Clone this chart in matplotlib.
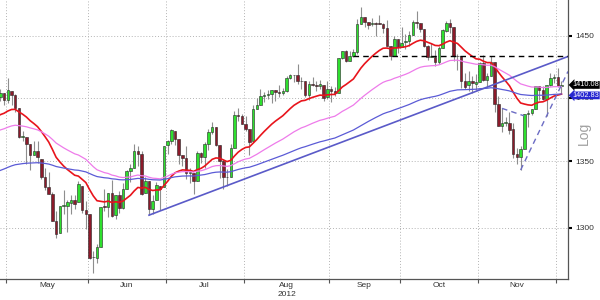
import matplotlib
matplotlib.use('Agg')
import matplotlib.pyplot as plt
from matplotlib.ticker import FixedLocator, FixedFormatter, NullLocator, NullFormatter
import numpy as np
import pandas as pd

plt.rcParams['font.family'] = ['Liberation Sans', 'DejaVu Sans']

# S&P 500, daily candles 26 Apr - 4 Dec 2012
months = ['2012-04', '2012-05', '2012-06', '2012-07', '2012-08',
          '2012-09', '2012-10', '2012-11', '2012-12']
trading_days = [
    [26, 27, 30],
    [1, 2, 3, 4, 7, 8, 9, 10, 11, 14, 15, 16, 17, 18, 21, 22, 23, 24, 25, 29, 30, 31],
    [1, 4, 5, 6, 7, 8, 11, 12, 13, 14, 15, 18, 19, 20, 21, 22, 25, 26, 27, 28, 29],
    [2, 3, 5, 6, 9, 10, 11, 12, 13, 16, 17, 18, 19, 20, 23, 24, 25, 26, 27, 30, 31],
    [1, 2, 3, 6, 7, 8, 9, 10, 13, 14, 15, 16, 17, 20, 21, 22, 23, 24, 27, 28, 29, 30, 31],
    [4, 5, 6, 7, 10, 11, 12, 13, 14, 17, 18, 19, 20, 21, 24, 25, 26, 27, 28],
    [1, 2, 3, 4, 5, 8, 9, 10, 11, 12, 15, 16, 17, 18, 19, 22, 23, 24, 25, 26, 31],
    [1, 2, 5, 6, 7, 8, 9, 12, 13, 14, 15, 16, 19, 20, 21, 23, 26, 27, 28, 29, 30],
    [3, 4],
]

# closes before the window (Nov 2011 - 25 Apr 2012), only feed the averages
hist_close = [
    1218.28, 1237.90, 1261.15, 1253.23, 1261.12, 1275.92, 1229.10, 1239.70, 1263.85, 1251.78,
    1257.81, 1236.91, 1216.13, 1215.65, 1192.98, 1188.04, 1161.79, 1158.67, 1192.55, 1195.19, 1246.96,
    1244.58, 1244.28, 1257.08, 1258.47, 1261.01, 1234.35, 1255.19, 1236.47, 1225.73, 1211.82,
    1215.75, 1219.66, 1205.35, 1241.30, 1243.72, 1254.00, 1265.33, 1265.43, 1249.64, 1263.02, 1257.60,
    1277.06, 1277.30, 1281.06, 1277.81, 1280.70, 1292.08, 1292.48, 1295.50, 1289.09, 1293.67,
    1308.04, 1314.50, 1315.38, 1316.00, 1314.65, 1326.06, 1318.43, 1316.33, 1313.01, 1312.41,
    1324.09, 1325.54, 1344.90, 1344.33, 1347.05, 1349.96, 1351.95, 1342.64, 1351.77, 1350.50,
    1343.23, 1358.04, 1361.23, 1362.21, 1357.66, 1363.46, 1365.74, 1367.59, 1372.18, 1365.68,
    1374.09, 1369.63, 1364.33, 1343.36, 1352.63, 1365.91, 1370.87, 1371.09, 1395.95, 1394.28, 1402.60,
    1404.17, 1409.75, 1405.52, 1402.89, 1392.78, 1397.11, 1416.51, 1412.52, 1405.54, 1403.28, 1408.47,
    1419.04, 1413.38, 1398.96, 1398.08, 1382.20, 1358.59, 1368.71, 1387.57, 1370.26,
    1369.57, 1390.78, 1385.14, 1376.92, 1378.53, 1366.94, 1371.97, 1390.69,
]

opens = [
    1390.64, 1400.19, 1403.26,
    1397.86, 1405.50, 1402.32, 1391.51, 1368.79, 1369.16, 1363.20, 1354.58, 1358.11, 1351.93, 1338.36,
    1330.78, 1324.82, 1305.05, 1295.73, 1316.09, 1316.02, 1318.72, 1320.64, 1318.90, 1331.25, 1313.09,
    1309.87, 1278.29, 1277.82, 1285.61, 1316.15, 1314.99, 1325.72, 1309.40, 1324.02, 1314.88, 1329.19,
    1342.42, 1344.83, 1358.04, 1355.43, 1325.92, 1334.90, 1314.09, 1320.71, 1331.52, 1330.12,
    1362.33, 1365.75, 1373.72, 1367.09, 1354.66, 1352.96, 1341.40, 1341.29, 1334.81, 1356.50, 1353.68,
    1363.58, 1373.01, 1376.51, 1362.34, 1350.52, 1338.35, 1338.17, 1360.05, 1385.94, 1385.27,
    1379.32, 1375.13, 1365.45, 1391.04, 1394.46, 1401.23, 1402.26, 1402.58, 1405.87, 1404.36, 1403.89,
    1405.57, 1415.84, 1417.85, 1418.13, 1413.09, 1413.49, 1401.99, 1411.13, 1410.44, 1409.32, 1410.08, 1400.07,
    1406.54, 1404.94, 1403.74, 1432.12, 1437.92, 1429.13, 1433.56, 1436.56, 1460.07, 1465.42,
    1461.19, 1459.50, 1461.05, 1460.34, 1459.76, 1456.94, 1441.60, 1433.36, 1447.13,
    1440.90, 1444.99, 1446.05, 1451.08, 1461.40, 1460.93, 1455.90, 1441.48, 1432.82, 1432.84, 1428.75,
    1440.31, 1454.22, 1460.94, 1457.15, 1433.21, 1433.74, 1413.20, 1409.74, 1412.97, 1410.99,
    1412.20, 1427.59, 1414.02, 1417.26, 1428.27, 1394.53, 1377.55, 1379.86, 1380.03, 1375.14, 1355.41,
    1353.36, 1359.88, 1386.82, 1387.79, 1391.03, 1409.15, 1406.29, 1398.77, 1409.96, 1415.95,
    1416.34, 1409.46,
]
highs = [
    1402.09, 1406.64, 1403.26,
    1415.32, 1405.50, 1403.07, 1391.51, 1373.91, 1369.16, 1363.73, 1365.88, 1365.66, 1351.93, 1344.94,
    1341.78, 1326.36, 1312.24, 1316.39, 1328.49, 1320.71, 1324.14, 1324.20, 1334.93, 1331.25, 1319.74,
    1309.87, 1282.55, 1287.62, 1315.13, 1329.05, 1325.81, 1335.52, 1324.31, 1327.28, 1333.68, 1343.32,
    1348.22, 1363.46, 1361.57, 1358.27, 1337.82, 1334.90, 1324.24, 1334.40, 1331.52, 1362.17,
    1366.35, 1374.81, 1373.85, 1367.09, 1354.87, 1361.54, 1345.00, 1341.29, 1357.70, 1357.26, 1365.36,
    1375.26, 1380.39, 1376.51, 1362.34, 1351.53, 1343.98, 1363.13, 1389.19, 1391.74, 1387.16,
    1385.03, 1375.13, 1394.16, 1399.63, 1407.14, 1404.14, 1405.95, 1405.98, 1405.87, 1410.03, 1407.73,
    1417.44, 1418.71, 1418.13, 1426.68, 1416.12, 1413.49, 1413.46, 1416.17, 1413.63, 1413.95, 1410.08, 1413.09,
    1409.31, 1408.81, 1432.12, 1437.92, 1438.74, 1437.76, 1439.15, 1463.76, 1474.51, 1465.63,
    1461.47, 1465.15, 1461.23, 1467.07, 1460.72, 1463.24, 1441.60, 1450.20, 1447.13,
    1457.14, 1451.52, 1454.30, 1463.14, 1470.96, 1460.93, 1455.90, 1442.52, 1443.90, 1438.43, 1441.31,
    1455.51, 1462.20, 1464.02, 1457.64, 1435.46, 1433.74, 1420.04, 1421.12, 1417.09, 1418.76,
    1428.35, 1434.27, 1419.90, 1433.38, 1428.27, 1401.23, 1391.39, 1384.87, 1388.81, 1380.13, 1360.62,
    1362.03, 1386.89, 1389.77, 1391.25, 1409.16, 1409.15, 1409.01, 1410.31, 1419.70, 1418.86,
    1423.73, 1413.14,
]
lows = [
    1387.28, 1397.31, 1394.00,
    1395.73, 1393.92, 1388.71, 1367.96, 1365.76, 1347.75, 1343.13, 1354.58, 1348.89, 1336.61, 1328.41,
    1324.79, 1304.86, 1291.98, 1295.73, 1310.04, 1296.53, 1310.50, 1314.23, 1318.90, 1310.76, 1298.90,
    1277.25, 1266.74, 1274.16, 1285.61, 1312.68, 1307.77, 1307.73, 1306.62, 1310.51, 1314.14, 1329.19,
    1334.46, 1344.83, 1346.45, 1324.41, 1325.92, 1309.27, 1310.30, 1320.71, 1313.29, 1330.12,
    1355.70, 1363.53, 1363.02, 1348.03, 1346.65, 1336.27, 1333.25, 1325.41, 1334.81, 1348.51, 1345.07,
    1358.96, 1371.21, 1362.19, 1337.56, 1329.24, 1331.50, 1338.17, 1360.05, 1381.37, 1379.17,
    1373.35, 1354.65, 1365.45, 1391.04, 1394.46, 1396.13, 1398.80, 1395.62, 1397.32, 1400.60, 1401.83,
    1404.15, 1414.67, 1412.12, 1410.86, 1406.78, 1400.50, 1398.04, 1409.11, 1405.59, 1406.57, 1397.01, 1398.96,
    1396.56, 1401.25, 1403.74, 1431.45, 1428.98, 1429.13, 1432.99, 1435.34, 1460.07, 1457.55,
    1456.13, 1457.88, 1449.98, 1459.51, 1452.06, 1441.59, 1430.53, 1433.36, 1435.60,
    1440.90, 1439.01, 1441.99, 1451.08, 1456.89, 1453.10, 1441.18, 1430.64, 1432.82, 1425.53, 1427.24,
    1440.31, 1453.35, 1452.63, 1429.85, 1422.06, 1407.56, 1407.10, 1405.14, 1403.28, 1405.95,
    1412.20, 1412.91, 1408.13, 1417.26, 1388.14, 1377.51, 1373.03, 1377.19, 1371.39, 1352.50, 1348.05,
    1343.35, 1359.88, 1377.04, 1386.39, 1391.03, 1398.03, 1398.03, 1385.43, 1409.04, 1411.63,
    1408.46, 1403.65,
]
closes = [
    1399.98, 1403.36, 1397.91,
    1405.82, 1402.31, 1391.57, 1369.10, 1369.58, 1363.72, 1354.58, 1357.99, 1353.39, 1338.35, 1330.66,
    1324.80, 1304.86, 1295.22, 1315.99, 1316.63, 1318.86, 1320.68, 1317.82, 1332.42, 1313.32, 1310.33,
    1278.04, 1278.18, 1285.50, 1315.13, 1314.99, 1325.66, 1308.93, 1324.18, 1314.88, 1329.10, 1342.84,
    1344.78, 1357.98, 1355.69, 1325.51, 1335.02, 1313.72, 1319.99, 1331.85, 1329.04, 1362.16,
    1365.51, 1374.02, 1367.58, 1354.68, 1352.46, 1341.47, 1341.45, 1334.76, 1356.78, 1353.64, 1363.67,
    1372.78, 1376.51, 1362.66, 1350.52, 1338.31, 1337.89, 1360.02, 1385.97, 1385.30, 1379.32,
    1375.32, 1365.00, 1390.99, 1394.23, 1401.35, 1402.22, 1402.80, 1405.87, 1404.11, 1403.93, 1405.53,
    1415.51, 1418.16, 1418.13, 1413.17, 1413.49, 1402.08, 1411.13, 1410.44, 1409.30, 1410.49, 1399.48, 1406.58,
    1404.94, 1403.44, 1432.12, 1437.92, 1429.08, 1433.56, 1436.56, 1459.99, 1465.77, 1461.19,
    1459.32, 1461.05, 1460.26, 1460.15, 1456.89, 1441.59, 1433.32, 1447.15, 1440.67,
    1444.49, 1445.75, 1450.99, 1461.40, 1460.93, 1455.88, 1441.48, 1432.56, 1432.84, 1428.59, 1440.13,
    1454.92, 1460.91, 1457.34, 1433.19, 1433.82, 1413.11, 1408.75, 1412.97, 1411.94, 1412.16,
    1427.59, 1414.20, 1417.26, 1428.39, 1394.53, 1377.51, 1379.85, 1380.03, 1374.53, 1355.49, 1353.33,
    1359.88, 1386.89, 1387.81, 1391.03, 1409.15, 1406.29, 1398.94, 1409.93, 1415.95, 1416.18,
    1409.46, 1410.08,
]

month_labels = ['May', 'Jun', 'Jul', 'Aug', 'Sep', 'Oct', 'Nov']
year_label = '2012'
yticks = [1300, 1350, 1400, 1450]
ema_spans = [20, 50, 100]
ema_colors = ['#e8141c', '#ee7bea', '#5b5bd6']
box_values = [1410.08, 1402.83]
box_colors = ['black', '#2626d0']

# hand drawn lines, anchored on (date, price)
support = [('2012-06-25', 1309.27), ('2012-07-25', 1331.50)]
resistance = ('2012-09-12', 1433.3)
rebound = [('2012-11-16', 1343.35), ('2012-11-28', 1385.43)]
fall = [('2012-11-09', 1391.39), ('2012-11-19', 1385.4)]

# ---------------------------------------------------------------------------
dates = ['%s-%02d' % (m, d) for m, days in zip(months, trading_days) for d in days]
pos = {d: i for i, d in enumerate(dates)}
idx = np.arange(len(dates))
o = np.array(opens)
h = np.array(highs)
l = np.array(lows)
c = np.array(closes)

all_close = pd.Series(hist_close + closes)
emas = [all_close.ewm(span=s, adjust=False).mean().values[len(hist_close):] for s in ema_spans]

fig = plt.figure(figsize=(6, 3), dpi=100)
ax = fig.add_axes([0, 0.07, 568 / 600, 0.93])
ax.set_yscale('log')

x_left, x_right = 0.9, 153.75
ax.set_xlim(x_left, x_right)
ax.set_ylim(1262.5, 1480)

# candles
up = c >= o
ax.vlines(idx, l, h, color='#8e8e8e', lw=0.8, zorder=2)
body_lo = np.minimum(o, c)
body_h = np.maximum(np.abs(c - o), 0.4)
ax.bar(idx, body_h, bottom=body_lo, width=0.68,
       color=np.where(up, '#2ee02e', '#8c1a2a'),
       edgecolor='#262626', linewidth=0.4, zorder=3)

for ema, col, lw in zip(emas, ema_colors, [1.2, 0.9, 0.9]):
    ax.plot(idx, ema, color=col, lw=lw, zorder=4)


def extend(p1, p2, x_end):
    i1, i2 = pos[p1[0]], pos[p2[0]]
    k = (np.log(p2[1]) - np.log(p1[1])) / (i2 - i1)
    xs = np.array([i1, x_end])
    return xs, p1[1] * np.exp(k * (xs - i1))


xs, ys = extend(support[0], support[1], x_right)
ax.plot(xs, ys, color='#5a5ac8', lw=1.2, zorder=4)
xs, ys = extend(rebound[0], rebound[1], x_right)
ax.plot(xs, ys, color='#6c6cc4', lw=1.0, dashes=(4, 3), zorder=4)
ax.plot([pos[fall[0][0]], pos[fall[1][0]]], [fall[0][1], fall[1][1]],
        color='#6c6cc4', lw=1.0, dashes=(4, 3), zorder=4)
ax.plot([pos[resistance[0]], x_right], [resistance[1]] * 2,
        color='black', lw=1.0, dashes=(4, 3), zorder=4)

# month axis
firsts = [i for i in range(1, len(dates)) if dates[i][:7] != dates[i - 1][:7]]
bounds = [i - 0.5 for i in firsts]
mids = [(a + b) / 2 for a, b in zip(bounds[:-1], bounds[1:])]
ax.xaxis.set_major_locator(FixedLocator(bounds))
ax.xaxis.set_major_formatter(NullFormatter())
ax.xaxis.set_minor_locator(FixedLocator(mids))
ax.xaxis.set_minor_formatter(FixedFormatter(month_labels))
ax.tick_params(axis='x', which='major', length=3, color='#555555', direction='out')
ax.tick_params(axis='x', which='minor', length=0, labelsize=6, pad=2.5, labelcolor='#333333')
ax.annotate(year_label, xy=(mids[3], 0), xycoords=('data', 'axes fraction'),
            xytext=(0, -16), textcoords='offset pixels', ha='center', va='center',
            fontsize=6, color='#333333', annotation_clip=False)

# price axis
ax.yaxis.tick_right()
ax.yaxis.set_major_locator(FixedLocator(yticks))
ax.yaxis.set_major_formatter(FixedFormatter([str(t) for t in yticks]))
ax.yaxis.set_minor_locator(NullLocator())
ax.tick_params(axis='y', which='major', length=3, width=1.5, color='black',
               labelsize=6, pad=2, labelcolor='#333333')

ax.grid(True, which='major', color='#b4b4b4', linestyle=(0, (1, 2)), linewidth=0.7)
ax.set_axisbelow(True)
for side in ['left', 'top']:
    ax.spines[side].set_visible(False)
for side in ['right', 'bottom']:
    ax.spines[side].set_color('#555555')
    ax.spines[side].set_linewidth(0.9)

# value boxes, the blue one nudged down so the two just touch
for val, col, dy in zip(box_values, box_colors, [0, -1]):
    ax.annotate('%.2f' % val, xy=(1, val), xycoords=('axes fraction', 'data'),
                xytext=(3.3, dy), textcoords='offset points', ha='left', va='center',
                fontsize=5.3, color='white', zorder=6, annotation_clip=False,
                bbox=dict(boxstyle='larrow,pad=0.05', fc=col, ec='none'))

fig.text(584 / 600, 1 - 133 / 300, 'Log', rotation=90, ha='center', va='center',
         fontsize=10, color='#a0a0a0')

fig.savefig('out.png', dpi=100)
